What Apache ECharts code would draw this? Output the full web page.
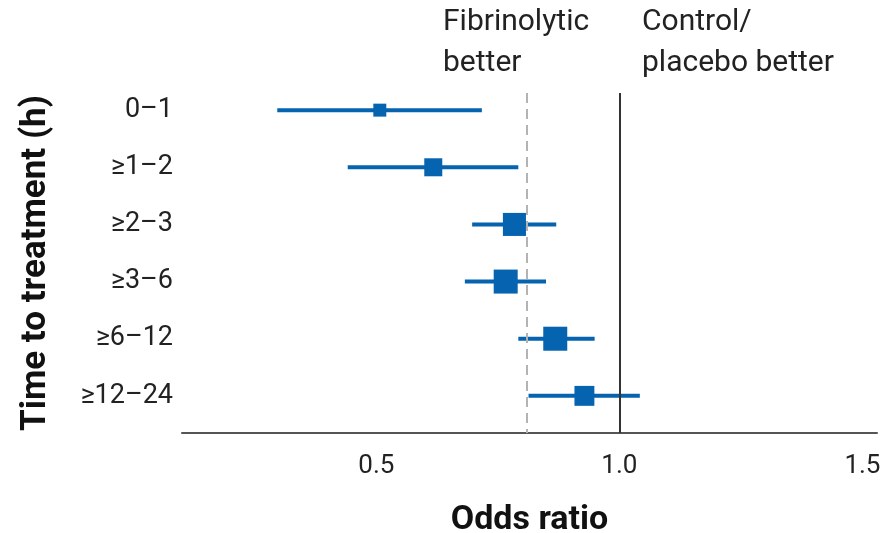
<!DOCTYPE html>
<html>
<head>
<meta charset="utf-8">
<script src="https://cdn.jsdelivr.net/npm/echarts@6/dist/echarts.min.js"></script>
<style>html,body{margin:0;padding:0;background:#fff}#c{width:891px;height:533px}</style>
</head>
<body>
<div id="c"></div>
<script>
const categories = ['0\u20131', '\u22651\u20132', '\u22652\u20133', '\u22653\u20136', '\u22656\u201312', '\u226512\u201324'];
const oddsRatio = [0.507, 0.617, 0.784, 0.766, 0.868, 0.928];
const ciLow = [0.296, 0.441, 0.697, 0.682, 0.792, 0.813];
const ciHigh = [0.717, 0.792, 0.870, 0.849, 0.949, 1.042];
const weight = [0.54, 0.75, 0.96, 1.0, 1.0, 0.83];
const pooledOR = 0.808;
const xTicks = [0.5, 1.0, 1.5];

const BLUE = '#0563b0';
const FONT = 'Roboto, "Liberation Sans", sans-serif';
const chart = echarts.init(document.getElementById('c'));

const rows = categories.map((c, i) => i + 1);

chart.setOption({
  animation: false,
  grid: { left: 182, right: 14, top: 93, bottom: 100, outerBoundsMode: 'none', containLabel: false },
  xAxis: {
    type: 'value', min: 0.1, max: 1.53,
    splitLine: { show: false },
    axisLine: { show: true, lineStyle: { color: '#555', width: 2 } },
    axisTick: { show: false },
    axisLabel: { customValues: xTicks, formatter: v => v.toFixed(1), fontSize: 26, color: '#222', margin: 20, fontFamily: FONT },
    name: 'Odds ratio', nameLocation: 'middle', nameGap: 70,
    nameTextStyle: { fontSize: 34, fontWeight: 'bold', color: '#111', fontFamily: FONT }
  },
  yAxis: {
    type: 'value', inverse: true, min: 0.7, max: 6.65,
    splitLine: { show: false },
    axisLine: { show: false }, axisTick: { show: false },
    axisLabel: { customValues: rows, formatter: v => categories[Math.round(v) - 1] || '', fontSize: 27, color: '#222', margin: 9, fontFamily: FONT },
    name: 'Time to treatment (h)', nameLocation: 'middle', nameRotate: 90, nameGap: 128,
    nameTextStyle: { fontSize: 35, fontWeight: 'bold', color: '#111', fontFamily: FONT }
  },
  graphic: [
    { type: 'text', left: 443, top: 2, style: { text: 'Fibrinolytic\nbetter', fontSize: 30, lineHeight: 41, fill: '#222', fontFamily: FONT } },
    { type: 'text', left: 642, top: 2, style: { text: 'Control/\nplacebo better', fontSize: 30, lineHeight: 41, fill: '#222', fontFamily: FONT } }
  ],
  series: [
    {
      type: 'custom',
      data: rows.map((r, i) => [ciLow[i], ciHigh[i], r]),
      renderItem: (params, api) => {
        const a = api.coord([api.value(0), api.value(2)]);
        const b = api.coord([api.value(1), api.value(2)]);
        return { type: 'line', shape: { x1: a[0], y1: a[1], x2: b[0], y2: b[1] }, style: { stroke: BLUE, lineWidth: 4 } };
      },
      z: 3,
      markLine: {
        silent: true, symbol: 'none', label: { show: false },
        data: [
          { xAxis: 1.0, lineStyle: { color: '#333', width: 2, type: 'solid' } },
          { xAxis: pooledOR, lineStyle: { color: '#b3b3b3', width: 2, type: [10, 6] } }
        ]
      }
    },
    {
      type: 'scatter',
      data: rows.map((r, i) => [oddsRatio[i], r, weight[i]]),
      symbol: 'rect',
      symbolSize: v => v[2] * 24,
      itemStyle: { color: BLUE, opacity: 1 },
      z: 4
    }
  ]
});
</script>
</body>
</html>
